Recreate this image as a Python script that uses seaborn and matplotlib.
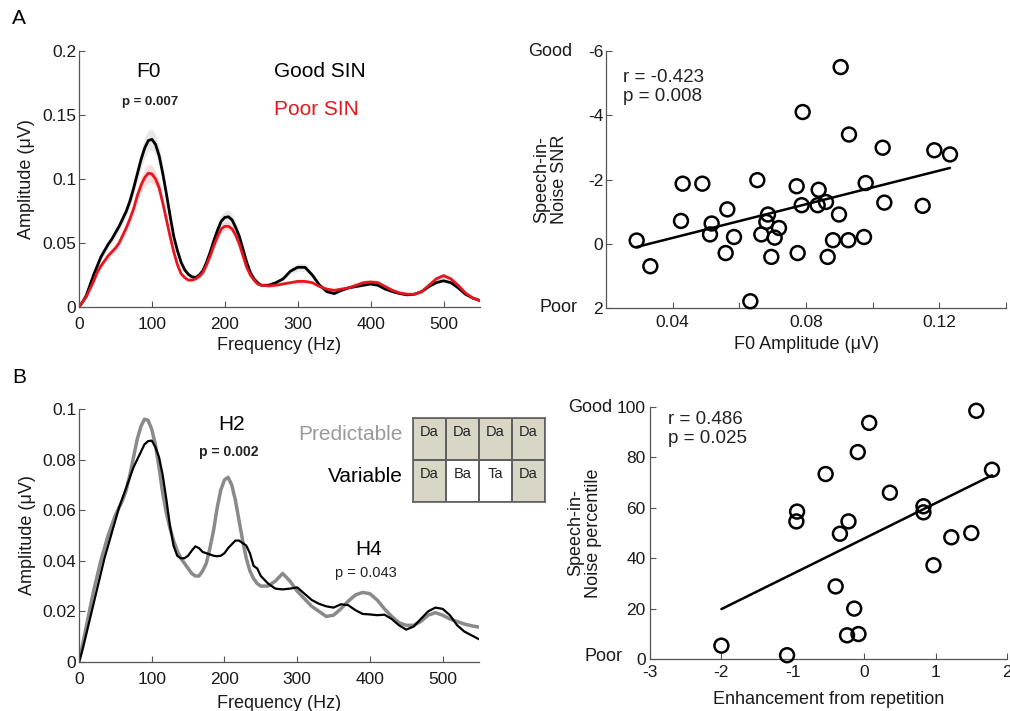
import numpy as np
import pandas as pd
import matplotlib
matplotlib.use("Agg")
import matplotlib.pyplot as plt
from matplotlib.colors import ListedColormap
import seaborn as sns

# ---------------- data ----------------
# frequency grid: 5 Hz steps up to 245 Hz, then 10 Hz steps to 550 Hz
freq = list(range(0, 250, 5)) + list(range(250, 551, 10))

good_sin = [0, 0.004, 0.009, 0.017, 0.025, 0.032, 0.039, 0.044, 0.049, 0.053,
            0.058, 0.063, 0.069, 0.075, 0.083, 0.093, 0.104, 0.115, 0.124, 0.130,
            0.131, 0.127, 0.118, 0.104, 0.088, 0.071, 0.055, 0.044, 0.035, 0.029,
            0.0255, 0.0235, 0.023, 0.025, 0.0285, 0.035, 0.043, 0.052, 0.060, 0.067,
            0.070, 0.0705, 0.068, 0.062, 0.055, 0.045, 0.035, 0.027, 0.022, 0.019,
            0.017, 0.017, 0.019, 0.022, 0.028, 0.031, 0.031, 0.025, 0.017, 0.012,
            0.0105, 0.013, 0.015, 0.016, 0.017, 0.018, 0.017, 0.014, 0.012, 0.0105,
            0.0095, 0.010, 0.012, 0.016, 0.019, 0.0205, 0.019, 0.015, 0.010, 0.007,
            0.005]
poor_sin = [0, 0.004, 0.008, 0.014, 0.020, 0.027, 0.032, 0.036, 0.040, 0.043,
            0.046, 0.050, 0.056, 0.062, 0.069, 0.077, 0.087, 0.095, 0.101, 0.1045,
            0.104, 0.100, 0.093, 0.081, 0.068, 0.055, 0.043, 0.033, 0.026, 0.023,
            0.021, 0.021, 0.022, 0.024, 0.027, 0.033, 0.040, 0.048, 0.055, 0.061,
            0.063, 0.063, 0.061, 0.056, 0.049, 0.040, 0.031, 0.025, 0.021, 0.018,
            0.017, 0.0165, 0.017, 0.018, 0.019, 0.020, 0.020, 0.019, 0.016, 0.014,
            0.013, 0.014, 0.015, 0.017, 0.019, 0.0195, 0.019, 0.016, 0.013, 0.011,
            0.010, 0.010, 0.012, 0.017, 0.022, 0.0245, 0.022, 0.017, 0.011, 0.007,
            0.005]
good_se = [0, 0.001, 0.001, 0.002, 0.002, 0.003, 0.003, 0.003, 0.003, 0.003,
           0.003, 0.004, 0.004, 0.004, 0.005, 0.005, 0.006, 0.007, 0.008, 0.008,
           0.008, 0.008, 0.007, 0.006, 0.005, 0.004, 0.003, 0.003, 0.002, 0.002,
           0.002, 0.002, 0.002, 0.002, 0.002, 0.003, 0.003, 0.004, 0.004, 0.005,
           0.005, 0.005, 0.005, 0.004, 0.004, 0.003, 0.003, 0.002, 0.002, 0.001,
           0.001, 0.001, 0.001, 0.002, 0.002, 0.003, 0.003, 0.002, 0.002, 0.001,
           0.001, 0.001, 0.001, 0.001, 0.001, 0.001, 0.001, 0.001, 0.001, 0.001,
           0.001, 0.001, 0.001, 0.001, 0.001, 0.001, 0.001, 0.001, 0.001, 0.001,
           0.001]
poor_se = [0, 0.001, 0.001, 0.001, 0.002, 0.002, 0.002, 0.002, 0.003, 0.003,
           0.003, 0.003, 0.003, 0.004, 0.004, 0.005, 0.005, 0.006, 0.007, 0.007,
           0.007, 0.006, 0.006, 0.005, 0.004, 0.003, 0.003, 0.002, 0.002, 0.001,
           0.001, 0.001, 0.001, 0.002, 0.002, 0.002, 0.003, 0.003, 0.003, 0.003,
           0.003, 0.003, 0.003, 0.003, 0.003, 0.002, 0.002, 0.001, 0.001, 0.001,
           0.001, 0.001, 0.001, 0.001, 0.001, 0.002, 0.002, 0.001, 0.001, 0.001,
           0.001, 0.001, 0.001, 0.001, 0.002, 0.002, 0.002, 0.001, 0.001, 0.001,
           0.001, 0.001, 0.001, 0.001, 0.002, 0.002, 0.002, 0.001, 0.001, 0.001,
           0.001]

predictable = [0, 0.007, 0.014, 0.021, 0.028, 0.034, 0.040, 0.045, 0.050, 0.054,
               0.058, 0.061, 0.064, 0.068, 0.074, 0.081, 0.088, 0.093, 0.096, 0.0955,
               0.092, 0.086, 0.077, 0.067, 0.059, 0.053, 0.048, 0.044, 0.041, 0.039,
               0.037, 0.035, 0.034, 0.034, 0.036, 0.039, 0.045, 0.052, 0.061, 0.068,
               0.072, 0.073, 0.070, 0.064, 0.056, 0.048, 0.041, 0.036, 0.033, 0.031,
               0.030, 0.030, 0.032, 0.035, 0.032, 0.028, 0.025, 0.022, 0.020, 0.018,
               0.0185, 0.021, 0.024, 0.0265, 0.0275, 0.027, 0.0245, 0.021, 0.018, 0.0155,
               0.0145, 0.0145, 0.016, 0.0185, 0.0195, 0.0185, 0.017, 0.016, 0.015, 0.0143,
               0.0138]
variable = [0, 0.005, 0.011, 0.017, 0.023, 0.029, 0.035, 0.041, 0.046, 0.051,
            0.056, 0.061, 0.065, 0.069, 0.073, 0.077, 0.080, 0.083, 0.086, 0.0873,
            0.0875, 0.085, 0.081, 0.074, 0.0645, 0.054, 0.046, 0.042, 0.041, 0.041,
            0.042, 0.044, 0.0457, 0.045, 0.0435, 0.043, 0.0425, 0.042, 0.0418, 0.042,
            0.043, 0.045, 0.0465, 0.048, 0.048, 0.047, 0.046, 0.043, 0.038, 0.037,
            0.034, 0.031, 0.029, 0.0287, 0.029, 0.0295, 0.027, 0.0245, 0.023, 0.022,
            0.0215, 0.0228, 0.0225, 0.0205, 0.019, 0.0188, 0.0185, 0.0187, 0.017, 0.0145,
            0.0128, 0.014, 0.017, 0.020, 0.0215, 0.021, 0.0185, 0.0145, 0.012, 0.0105,
            0.009]

f0_amp = [0.0292, 0.0333, 0.0430, 0.0489, 0.0425, 0.0517, 0.0512, 0.0564, 0.0559, 0.0584,
          0.0654, 0.0633, 0.0666, 0.0686, 0.0681, 0.0719, 0.0706, 0.0696, 0.0772, 0.0790,
          0.0775, 0.0787, 0.0838, 0.0835, 0.0860, 0.0865, 0.0881, 0.0899, 0.0904, 0.0929,
          0.0927, 0.0974, 0.0979, 0.1030, 0.1035, 0.1150, 0.1185, 0.1232]
sin_snr = [-0.10, 0.70, -1.87, -1.87, -0.71, -0.63, -0.29, -1.07, 0.29, -0.21,
           -1.98, 1.79, -0.29, -0.91, -0.68, -0.49, -0.19, 0.41, -1.79, -4.10,
           0.29, -1.20, -1.68, -1.20, -1.30, 0.41, -0.11, -0.91, -5.50, -3.40,
           -0.11, -0.21, -1.89, -2.99, -1.28, -1.18, -2.91, -2.78]
fitA_x = [0.0292, 0.1232]
fitA_y = [0.10, -2.36]

enhancement = [-2.00, -1.08, -0.94, -0.95, -0.54, -0.40, -0.34, -0.22, -0.24, -0.09, -0.14,
               -0.08, 0.07, 0.36, 0.83, 0.83, 0.97, 1.22, 1.50, 1.57, 1.79]
sin_pct = [5.3, 1.5, 58.5, 54.6, 73.4, 28.8, 49.7, 54.6, 9.4, 82.1, 20.0,
           9.9, 93.7, 66.0, 60.6, 58.2, 37.2, 48.3, 50.0, 98.5, 75.1]
fitB_x = [-2.0, 1.79]
fitB_y = [19.8, 72.9]

syll_pred = ["Da", "Da", "Da", "Da"]
syll_var = ["Da", "Ba", "Ta", "Da"]

tickA_y = [0, 0.05, 0.1, 0.15, 0.2]
tickA_ylab = ["0", "0.05", "0.1", "0.15", "0.2"]
tick_freq = [0, 100, 200, 300, 400, 500]
tickAr_y = [-6, -4, -2, 0, 2]
tickAr_x = [0.04, 0.08, 0.12]
tickAr_xminor = [0.06, 0.10, 0.14]
tickB_y = [0, 0.02, 0.04, 0.06, 0.08, 0.1]
tickB_ylab = ["0", "0.02", "0.04", "0.06", "0.08", "0.1"]
tickBr_x = [-3, -2, -1, 0, 1, 2]
tickBr_y = [0, 20, 40, 60, 80, 100]

# ---------------- style ----------------
sns.set_theme(style="white")
plt.rcParams["font.family"] = ["Liberation Sans", "DejaVu Sans"]
plt.rcParams["axes.unicode_minus"] = False

W, H = 1010, 711
fig = plt.figure(figsize=(W / 100, H / 100), dpi=100)


def px_axes(l, t, r, b):
    return fig.add_axes([l / W, 1 - b / H, (r - l) / W, (b - t) / H])


TXT = "#1a1a1a"
FS = 12.5
LFS = 13


def style(ax, xpad=5, ypad=2):
    for s in ["top", "right"]:
        ax.spines[s].set_visible(False)
    for s in ["left", "bottom"]:
        ax.spines[s].set_color("#555555")
        ax.spines[s].set_linewidth(0.9)
    ax.tick_params(which="both", direction="in", length=4, width=0.8, color="#555555",
                   labelcolor=TXT, labelsize=FS, left=True, bottom=True)
    ax.tick_params(axis="x", which="both", pad=xpad)
    ax.tick_params(axis="y", which="both", pad=ypad)


RED = "#e5161f"

# ---------- A left ----------
axA = px_axes(79, 51, 480, 307)
fr = np.array(freq)
g = np.array(good_sin); gs = np.array(good_se)
p = np.array(poor_sin); ps = np.array(poor_se)
axA.fill_between(fr, g - gs, g + gs, color="#bdbdbd", alpha=0.35, lw=0)
axA.fill_between(fr, p - ps, p + ps, color="#f4a0a0", alpha=0.35, lw=0)
sns.lineplot(x=freq, y=good_sin, color="black", lw=2.0, ax=axA)
sns.lineplot(x=freq, y=poor_sin, color=RED, lw=2.0, ax=axA)
axA.set_xlim(0, 550); axA.set_ylim(0, 0.2)
axA.set_xticks(tick_freq); axA.set_xticklabels([str(t) for t in tick_freq])
axA.set_yticks(tickA_y); axA.set_yticklabels(tickA_ylab)
style(axA, xpad=7)
axA.set_xlabel("Frequency (Hz)", fontsize=LFS, color=TXT, labelpad=4)
axA.set_ylabel("Amplitude (μV)", fontsize=LFS, color=TXT, labelpad=5)
axA.text(95, 0.1836, "F0", ha="center", va="center", fontsize=15, color="black")
axA.text(98, 0.160, "p = 0.007", ha="center", va="center", fontsize=9.5,
         fontweight="bold", color="#222222")
axA.text(330, 0.1836, "Good SIN", ha="center", va="center", fontsize=15, color="black")
axA.text(325, 0.154, "Poor SIN", ha="center", va="center", fontsize=15, color=RED)

# ---------- A right ----------
axAr = px_axes(606, 51, 1006, 308)
sns.lineplot(x=fitA_x, y=fitA_y, color="black", lw=1.8, ax=axAr)
sns.scatterplot(x=f0_amp, y=sin_snr, marker="o", s=100, facecolor="none",
                edgecolor="black", linewidth=1.8, ax=axAr, zorder=3, clip_on=False)
axAr.set_xlim(0.02, 0.14); axAr.set_ylim(2, -6)
axAr.set_xticks(tickAr_x); axAr.set_xticklabels(["0.04", "0.08", "0.12"])
axAr.set_xticks(tickAr_xminor, minor=True)
axAr.set_yticks(tickAr_y); axAr.set_yticklabels([str(t) for t in tickAr_y])
style(axAr, xpad=5, ypad=2)
axAr.set_xlabel("F0 Amplitude (μV)", fontsize=LFS, color=TXT)
axAr.xaxis.set_label_coords(0.5, -0.11)
axAr.set_ylabel("Speech-in-\nNoise SNR", fontsize=LFS, color=TXT, linespacing=1.05)
axAr.yaxis.set_label_coords(-0.095, 0.5)
axAr.text(-0.085, 1.0, "Good", transform=axAr.transAxes, ha="right", va="center",
          fontsize=13, color=TXT)
axAr.text(-0.072, 0.0, "Poor", transform=axAr.transAxes, ha="right", va="center",
          fontsize=13, color=TXT)
axAr.text(0.043, 0.93, "r = -0.423\np = 0.008", transform=axAr.transAxes, ha="left",
          va="top", fontsize=13.5, color="#222222", linespacing=1.15)

# ---------- B left ----------
axB = px_axes(79, 409, 479, 662)
sns.lineplot(x=freq, y=predictable, color="#8a8a8a", lw=2.5, ax=axB)
sns.lineplot(x=freq, y=variable, color="black", lw=1.6, ax=axB)
axB.set_xlim(0, 550); axB.set_ylim(0, 0.1)
axB.set_xticks(tick_freq); axB.set_xticklabels([str(t) for t in tick_freq])
axB.set_yticks(tickB_y); axB.set_yticklabels(tickB_ylab)
style(axB, xpad=7)
axB.set_xlabel("Frequency (Hz)", fontsize=LFS, color=TXT, labelpad=6)
axB.set_ylabel("Amplitude (μV)", fontsize=LFS, color=TXT, labelpad=5)
axB.text(210, 0.094, "H2", ha="center", va="center", fontsize=15, color="black")
axB.text(206, 0.083, "p = 0.002", ha="center", va="center", fontsize=10,
         fontweight="bold", color="#222222")
axB.text(398, 0.0445, "H4", ha="center", va="center", fontsize=15, color="black")
axB.text(394, 0.035, "p = 0.043", ha="center", va="center", fontsize=10.5, color="#222222")

fig.text(403 / W, 1 - 435 / H, "Predictable", ha="right", va="center", fontsize=15,
         color="#9a9a9a")
fig.text(403 / W, 1 - 476 / H, "Variable", ha="right", va="center", fontsize=15,
         color="black")

# inset table as heatmap
axT = px_axes(413, 418, 545, 502)
rows = [syll_pred, syll_var]
mat = np.array([[1 if s == "Da" else 0 for s in r] for r in rows])
sns.heatmap(mat, annot=np.array(rows), fmt="", cmap=ListedColormap(["white", "#d9d6c5"]),
            vmin=0, vmax=1, cbar=False, linewidths=1.2, linecolor="#606060", ax=axT,
            annot_kws=dict(fontsize=10.5, color="#222222"))
for t in axT.texts:
    x, y = t.get_position()
    t.set_position((x, y - 0.17))
axT.set_xticks([]); axT.set_yticks([])
for s in axT.spines.values():
    s.set_visible(True); s.set_color("#606060"); s.set_linewidth(1.2)

# ---------- B right ----------
axBr = px_axes(650, 407, 1007, 659)
sns.lineplot(x=fitB_x, y=fitB_y, color="black", lw=1.8, ax=axBr)
sns.scatterplot(x=enhancement, y=sin_pct, marker="o", s=100, facecolor="none",
                edgecolor="black", linewidth=1.8, ax=axBr, zorder=3, clip_on=False)
axBr.set_xlim(-3, 2); axBr.set_ylim(0, 100)
axBr.set_xticks(tickBr_x); axBr.set_xticklabels([str(t) for t in tickBr_x])
axBr.set_yticks(tickBr_y); axBr.set_yticklabels([str(t) for t in tickBr_y])
style(axBr, xpad=4, ypad=3)
axBr.set_xlabel("Enhancement from repetition", fontsize=LFS, color=TXT)
axBr.xaxis.set_label_coords(0.5, -0.125)
axBr.set_ylabel("Speech-in-\nNoise percentile", fontsize=LFS, color=TXT, linespacing=1.05)
axBr.yaxis.set_label_coords(-0.135, 0.5)
axBr.text(-0.106, 1.0, "Good", transform=axBr.transAxes, ha="right", va="center",
          fontsize=13, color=TXT)
axBr.text(-0.076, 0.01, "Poor", transform=axBr.transAxes, ha="right", va="center",
          fontsize=13, color=TXT)
axBr.text(0.05, 0.985, "r = 0.486\np = 0.025", transform=axBr.transAxes, ha="left",
          va="top", fontsize=13.5, color="#222222", linespacing=1.15)

fig.text(12 / W, 1 - 19 / H, "A", ha="left", va="center", fontsize=15, color="black")
fig.text(12 / W, 1 - 378 / H, "B", ha="left", va="center", fontsize=15, color="black")

fig.savefig("out.png", dpi=100)
